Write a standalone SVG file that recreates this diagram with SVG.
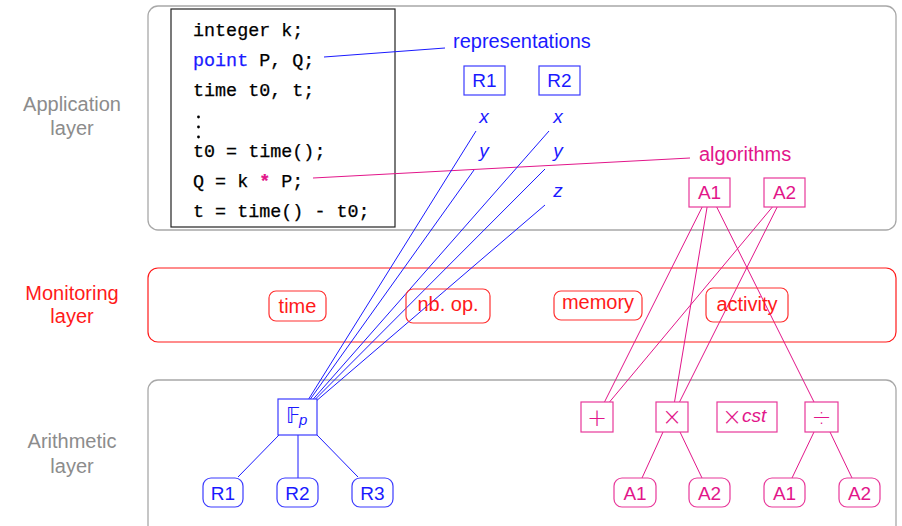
<svg xmlns="http://www.w3.org/2000/svg" width="902" height="526" viewBox="0 0 902 526">
<style>
  .sans { font-family: "Liberation Sans", Arial, sans-serif; }
  .mono { font-family: "Liberation Mono", "Courier New", monospace; font-size: 18.4px; fill: #000; stroke: #000; stroke-width: 0.25; }
  .layer { fill: none; stroke: #a8a8a8; stroke-width: 1.3; }
  .gray { fill: #8c8c8c; font-size: 20px; }
  .red { fill: #ff1a1a; }
  .blue { fill: #1a1aff; }
  .mag { fill: #e2168a; }
  .bbox { fill: #fff; stroke: #3b3bff; stroke-width: 1.2; }
  .mbox { fill: #fff; stroke: #e8389a; stroke-width: 1.2; }
  .rbox { fill: none; stroke: #ff3030; stroke-width: 1.2; }
  .bl { stroke: #1a1aff; stroke-width: 1; fill: none; }
  .ml { stroke: #e2168a; stroke-width: 1; fill: none; }
  .lbl { font-size: 19px; text-anchor: middle; }
  .it { font-style: italic; }
  .op { font-family: "DejaVu Sans", sans-serif; font-size: 24px; text-anchor: middle; font-weight: 200; }
</style>

<!-- layers -->
<g id="application-layer">
  <rect class="layer" x="148" y="6" width="748" height="224" rx="10"/>
  <text class="sans gray" x="72" y="111" text-anchor="middle">Application</text>
  <text class="sans gray" x="72" y="135" text-anchor="middle">layer</text>
</g>
<g id="monitoring-layer">
  <rect x="148" y="268" width="748" height="74" rx="10" fill="none" stroke="#ff1a1a" stroke-width="1.2"/>
  <text class="sans red" font-size="20" x="72" y="300" text-anchor="middle">Monitoring</text>
  <text class="sans red" font-size="20" x="72" y="323" text-anchor="middle">layer</text>
</g>
<g id="arithmetic-layer">
  <rect class="layer" x="148" y="380" width="748" height="160" rx="10"/>
  <text class="sans gray" x="72" y="448" text-anchor="middle">Arithmetic</text>
  <text class="sans gray" x="72" y="473" text-anchor="middle">layer</text>
</g>

<!-- code -->
<g id="code">
  <rect x="171" y="9" width="224" height="218" fill="#fff" stroke="#222" stroke-width="1.2"/>
  <text class="mono" x="193" y="36">integer k;</text>
  <text class="mono" x="193" y="66"><tspan fill="#1a1aff" stroke="#1a1aff">point</tspan> P, Q;</text>
  <text class="mono" x="193" y="96">time t0, t;</text>
  <circle cx="198.5" cy="117" r="1.4" fill="#000"/>
  <circle cx="198.5" cy="127" r="1.4" fill="#000"/>
  <circle cx="198.5" cy="137" r="1.4" fill="#000"/>
  <text class="mono" x="193" y="157">t0 = time();</text>
  <text class="mono" x="193" y="187">Q = k <tspan fill="#e2168a" stroke="#e2168a" font-weight="bold">*</tspan> P;</text>
  <text class="mono" x="193" y="217">t = time() - t0;</text>
</g>

<!-- connectors -->
<g id="connectors">
  <line class="bl" x1="324" y1="57" x2="445" y2="48"/>
  <line class="ml" x1="313" y1="178" x2="690" y2="158"/>
  <line class="bl" x1="308.7" y1="399" x2="476" y2="131"/>
  <line class="bl" x1="310.4" y1="399" x2="474" y2="170"/>
  <line class="bl" x1="313.3" y1="399" x2="549" y2="131"/>
  <line class="bl" x1="315.5" y1="399" x2="545" y2="169"/>
  <line class="bl" x1="317" y1="400.3" x2="545" y2="205"/>
  <line class="bl" x1="279" y1="435" x2="238" y2="477"/>
  <line class="bl" x1="298" y1="435" x2="298" y2="478"/>
  <line class="bl" x1="317" y1="435" x2="358" y2="477"/>
  <line class="ml" x1="702.2" y1="207" x2="604.5" y2="402"/>
  <line class="ml" x1="772.4" y1="207" x2="609.5" y2="402"/>
  <line class="ml" x1="707.1" y1="207" x2="674.5" y2="402"/>
  <line class="ml" x1="777.2" y1="207" x2="679.5" y2="402"/>
  <line class="ml" x1="716.7" y1="207" x2="814" y2="402"/>
  <line class="ml" x1="663" y1="432" x2="642" y2="478"/>
  <line class="ml" x1="680" y1="432" x2="702" y2="478"/>
  <line class="ml" x1="814" y1="432" x2="792" y2="478"/>
  <line class="ml" x1="830" y1="432" x2="852" y2="478"/>
</g>

<!-- application nodes -->
<g id="representations"><text class="sans blue" font-size="20" x="453" y="48">representations</text></g>
<g id="algorithms"><text class="sans mag" font-size="20" x="699" y="161">algorithms</text></g>
<g id="rep-R1">
  <rect class="bbox" x="464" y="66" width="41" height="29"/>
  <text class="sans blue lbl" x="484.5" y="87">R1</text>
</g>
<g id="rep-R2">
  <rect class="bbox" x="539" y="66" width="41" height="29"/>
  <text class="sans blue lbl" x="559.5" y="87">R2</text>
</g>
<g id="R1-x"><text class="sans blue lbl it" x="484" y="123">x</text></g>
<g id="R1-y"><text class="sans blue lbl it" x="484" y="157">y</text></g>
<g id="R2-x"><text class="sans blue lbl it" x="558" y="123">x</text></g>
<g id="R2-y"><text class="sans blue lbl it" x="558" y="157">y</text></g>
<g id="R2-z"><text class="sans blue lbl it" x="558" y="197">z</text></g>
<g id="alg-A1">
  <rect class="mbox" x="689" y="178" width="41" height="29"/>
  <text class="sans mag lbl" x="709.5" y="199">A1</text>
</g>
<g id="alg-A2">
  <rect class="mbox" x="764" y="178" width="41" height="29"/>
  <text class="sans mag lbl" x="784.5" y="199">A2</text>
</g>

<!-- monitoring nodes -->
<g id="mon-time">
  <rect class="rbox" x="269" y="291" width="57" height="30" rx="7"/>
  <text class="sans red" font-size="20" x="297.5" y="313" text-anchor="middle">time</text>
</g>
<g id="mon-nbop">
  <rect class="rbox" x="406" y="289" width="84" height="34" rx="7"/>
  <text class="sans red" font-size="20" x="448" y="311" text-anchor="middle">nb. op.</text>
</g>
<g id="mon-memory">
  <rect class="rbox" x="554" y="291" width="88" height="29" rx="7"/>
  <text class="sans red" font-size="20" x="598" y="309" text-anchor="middle">memory</text>
</g>
<g id="mon-activity">
  <rect class="rbox" x="706" y="288" width="82" height="34" rx="7"/>
  <text class="sans red" font-size="20" x="747" y="311" text-anchor="middle">activity</text>
</g>

<!-- arithmetic nodes -->
<g id="Fp">
  <rect class="bbox" x="278" y="399" width="39" height="36"/>
  <text x="286" y="423" font-family="DejaVu Sans, sans-serif" font-size="21" fill="#1a1aff">𝔽</text>
  <text class="sans blue it" x="299" y="425" font-size="15">p</text>
</g>
<g id="Fp-R1">
  <rect class="bbox" x="203" y="478" width="40" height="29" rx="8"/>
  <text class="sans blue lbl" x="223" y="500">R1</text>
</g>
<g id="Fp-R2">
  <rect class="bbox" x="277" y="478" width="41" height="29" rx="8"/>
  <text class="sans blue lbl" x="297.5" y="500">R2</text>
</g>
<g id="Fp-R3">
  <rect class="bbox" x="352" y="478" width="41" height="29" rx="8"/>
  <text class="sans blue lbl" x="372.5" y="500">R3</text>
</g>
<g id="op-plus">
  <rect class="mbox" x="581" y="402" width="32" height="30"/>
  <text class="mag op" x="597" y="426">+</text>
</g>
<g id="op-times">
  <rect class="mbox" x="656" y="402" width="32" height="30"/>
  <text class="mag op" x="672" y="425">×</text>
</g>
<g id="op-timescst">
  <rect class="mbox" x="717" y="402" width="60" height="30"/>
  <text class="mag op" x="732" y="425">×</text>
  <text class="sans mag it" font-size="19" x="742" y="422">cst</text>
</g>
<g id="op-div">
  <rect class="mbox" x="805" y="402" width="33" height="30"/>
  <text class="mag op" x="821.5" y="426">÷</text>
</g>
<g id="times-A1">
  <rect class="mbox" x="614" y="478" width="42" height="29" rx="8"/>
  <text class="sans mag lbl" x="635" y="500">A1</text>
</g>
<g id="times-A2">
  <rect class="mbox" x="689" y="478" width="41" height="29" rx="8"/>
  <text class="sans mag lbl" x="709.5" y="500">A2</text>
</g>
<g id="div-A1">
  <rect class="mbox" x="764" y="478" width="41" height="29" rx="8"/>
  <text class="sans mag lbl" x="784.5" y="500">A1</text>
</g>
<g id="div-A2">
  <rect class="mbox" x="839" y="478" width="41" height="29" rx="8"/>
  <text class="sans mag lbl" x="859.5" y="500">A2</text>
</g>
</svg>
